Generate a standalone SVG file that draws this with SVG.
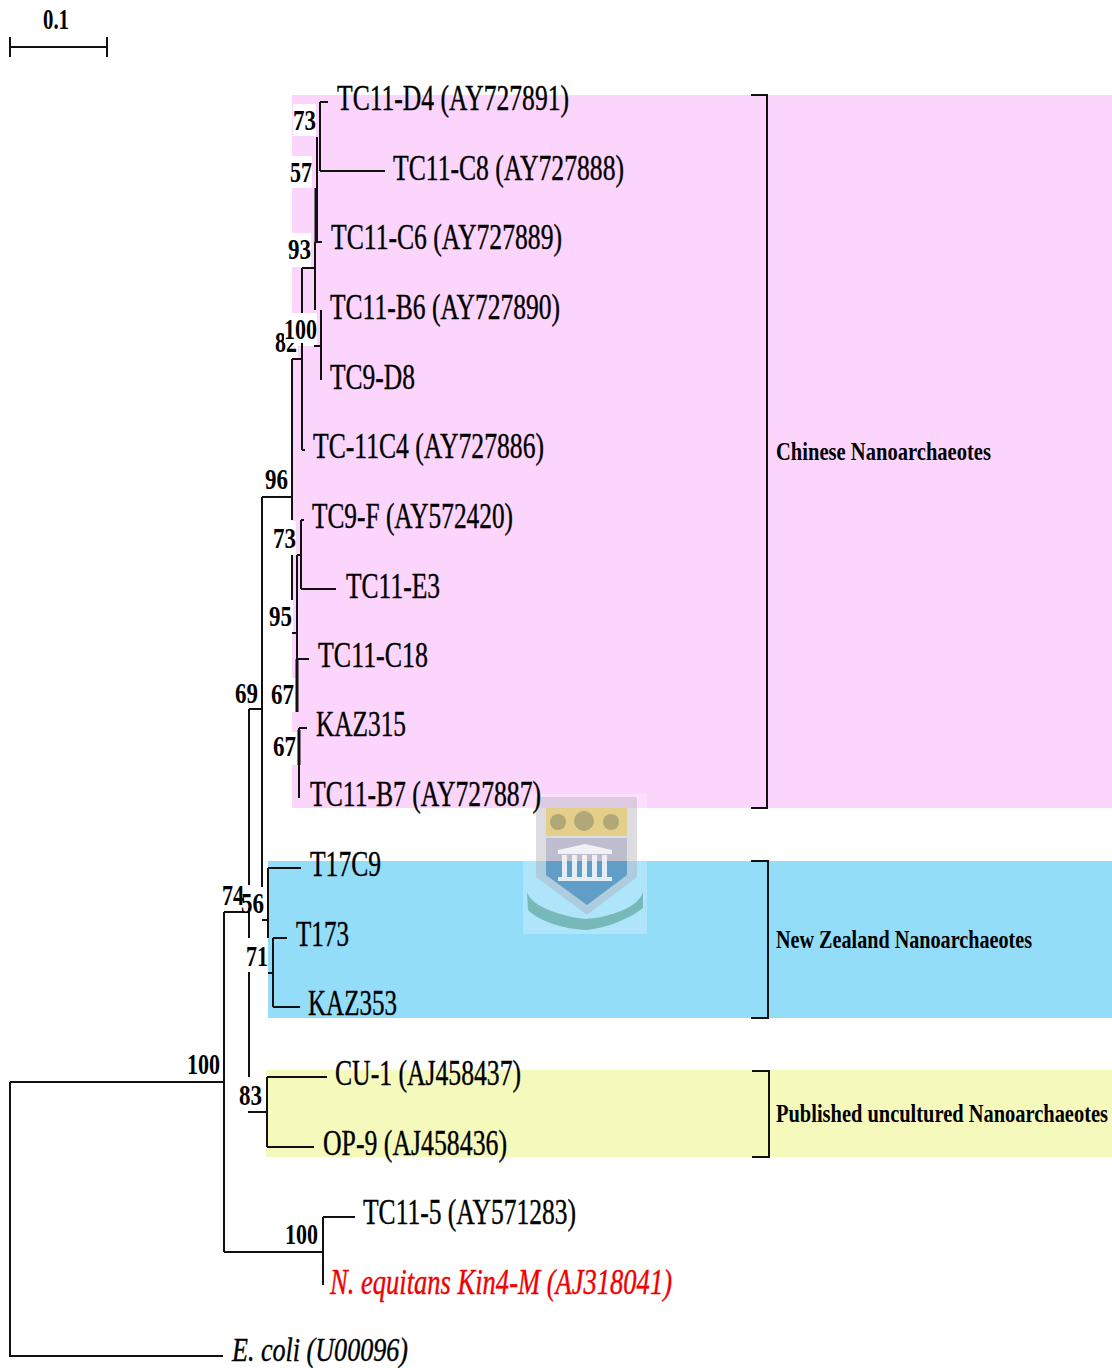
<svg xmlns="http://www.w3.org/2000/svg" width="1112" height="1368" viewBox="0 0 1112 1368">
<style>
text{font-family:"Liberation Serif","Times New Roman",serif;fill:#000}
.t{font-size:35px;stroke:#000;stroke-width:.4px}
.n{font-size:29px;font-weight:bold}
.c{font-size:26px;font-weight:bold}
.i{font-style:italic}
.r{fill:#f00000;stroke:#f00000}
.w{fill:#fff}
#tree path,#brackets path{fill:none;stroke:#111;stroke-width:2px}
</style>
<rect width="1112" height="1368" fill="#fff"/>
<g id="bands">
<rect x="292" y="95" width="820" height="713" fill="#fcd5fd"/>
<rect x="268" y="861" width="844" height="157" fill="#94ddf8"/>
<rect x="266" y="1070" width="846" height="87" fill="#f5fabc"/>
</g>
<g id="watermark">
<rect x="523" y="794" width="124" height="140" fill="#fff" opacity=".25"/>
<path d="M536 797H637V877L587 915L536 877Z" fill="#a9a9b4" opacity=".4"/>
<path d="M546 808H627V836H546Z" fill="#e8c75a" opacity=".65"/>
<path d="M546 838H627V861H546Z" fill="#8f8fb0" opacity=".4"/>
<path d="M546 861H627V875L587 905L546 875Z" fill="#3f89bd" opacity=".7"/>
<path d="M558 850L585 844L612 850V854H558ZM562 855H567V877H562ZM572 855H577V877H572ZM582 855H587V877H582ZM592 855H597V877H592ZM602 855H607V877H602ZM558 877H612V881H558Z" fill="#f4f6fa" opacity=".9"/>
<circle cx="558" cy="822" r="8" fill="#8f8d70" opacity=".6"/><circle cx="584" cy="821" r="10" fill="#8f8d70" opacity=".6"/><circle cx="611" cy="822" r="8" fill="#8f8d70" opacity=".6"/>
<path d="M527 892C532 908 565 917 586 919C610 917 638 908 643 892V908C625 922 600 929 586 930C565 929 540 922 528 910Z" fill="#5fa59c" opacity=".7"/>
</g>
<g id="labels-bg">
<rect class="w" x="293" y="104" width="23" height="32"/>
<rect class="w" x="290" y="156" width="22" height="32"/>
<rect class="w" x="288" y="233" width="23" height="34"/>
<rect class="w" x="272" y="325" width="26" height="34"/>
<rect class="w" x="284" y="313" width="33" height="33"/>
<rect class="w" x="271" y="521" width="25" height="34"/>
<rect class="w" x="268" y="600" width="25" height="32"/>
<rect class="w" x="270" y="678" width="26" height="34"/>
<rect class="w" x="272" y="732" width="25" height="33"/>
</g>
<g id="tree">
<path d="M10 47H107M10 37V57M107 37V57"/>
<path d="M10 1082H224M10 1082V1356H223M224 912V1252M224 912H245M224 1252H323M323 1217V1285M323 1217H355"/>
<path d="M249 709V885M249 908V938M249 972V1077M249 709H262M248 1112H267M267 1077V1147M267 1077H327M267 1147H314"/>
<path d="M262 497V887M262 920H268M268 868V938M268 868H301M268 973H273M273 938V1007M273 938H287M273 1007H300"/>
<path d="M262 497H292M292 359V520M292 555V600M292 633H297M297 555V712M297 555H300M301 520V589M301 520H304M301 589H336M297 659H309"/>
<path d="M299 728V798M299 728H307"/>
<path d="M292 359H302M302 268V450M302 450H305M302 268H315M315 242V310M314 346H321M321 310V380"/>
<path d="M317 137V242M316 242H322M320 102V171M320 102H328M320 171H385"/>
<path d="M297 659V712M299 730V765M316 188V242" style="stroke-width:3px"/>
</g>
<g id="brackets">
<path d="M751 95H767V808H751"/>
<path d="M751 861H768V1018H751"/>
<path d="M752 1071H769V1157H752"/>
</g>
<g id="numbers">
<text class="n" x="43" y="29" textLength="26" lengthAdjust="spacingAndGlyphs">0.1</text>
<text class="n" x="293" y="130" textLength="23" lengthAdjust="spacingAndGlyphs">73</text>
<text class="n" x="290" y="182" textLength="22" lengthAdjust="spacingAndGlyphs">57</text>
<text class="n" x="288" y="259" textLength="23" lengthAdjust="spacingAndGlyphs">93</text>
<text class="n" x="275" y="352" textLength="22" lengthAdjust="spacingAndGlyphs">82</text>
<rect class="w" x="284" y="313" width="33" height="30"/>
<text class="n" x="284" y="339" textLength="33" lengthAdjust="spacingAndGlyphs">100</text>
<text class="n" x="265" y="489" textLength="23" lengthAdjust="spacingAndGlyphs">96</text>
<text class="n" x="273" y="548" textLength="23" lengthAdjust="spacingAndGlyphs">73</text>
<text class="n" x="269" y="626" textLength="23" lengthAdjust="spacingAndGlyphs">95</text>
<text class="n" x="271" y="704" textLength="23" lengthAdjust="spacingAndGlyphs">67</text>
<text class="n" x="273" y="756" textLength="23" lengthAdjust="spacingAndGlyphs">67</text>
<text class="n" x="235" y="703" textLength="23" lengthAdjust="spacingAndGlyphs">69</text>
<text class="n" x="222" y="905" textLength="22" lengthAdjust="spacingAndGlyphs">74</text>
<text class="n" x="241" y="913" textLength="23" lengthAdjust="spacingAndGlyphs">56</text>
<text class="n" x="246" y="966" textLength="22" lengthAdjust="spacingAndGlyphs">71</text>
<text class="n" x="239" y="1105" textLength="23" lengthAdjust="spacingAndGlyphs">83</text>
<text class="n" x="187" y="1074" textLength="33" lengthAdjust="spacingAndGlyphs">100</text>
<text class="n" x="285" y="1244" textLength="33" lengthAdjust="spacingAndGlyphs">100</text>
</g>
<g id="tip-tc11-d4"><text class="t" x="337" y="110" textLength="232" lengthAdjust="spacingAndGlyphs">TC11-D4 (AY727891)</text></g>
<g id="tip-tc11-c8"><text class="t" x="393" y="180" textLength="231" lengthAdjust="spacingAndGlyphs">TC11-C8 (AY727888)</text></g>
<g id="tip-tc11-c6"><text class="t" x="331" y="249" textLength="231" lengthAdjust="spacingAndGlyphs">TC11-C6 (AY727889)</text></g>
<g id="tip-tc11-b6"><text class="t" x="330" y="319" textLength="230" lengthAdjust="spacingAndGlyphs">TC11-B6 (AY727890)</text></g>
<g id="tip-tc9-d8"><text class="t" x="330" y="389" textLength="85" lengthAdjust="spacingAndGlyphs">TC9-D8</text></g>
<g id="tip-tc-11c4"><text class="t" x="313" y="458" textLength="231" lengthAdjust="spacingAndGlyphs">TC-11C4 (AY727886)</text></g>
<g id="tip-tc9-f"><text class="t" x="312" y="528" textLength="201" lengthAdjust="spacingAndGlyphs">TC9-F (AY572420)</text></g>
<g id="tip-tc11-e3"><text class="t" x="346" y="598" textLength="94" lengthAdjust="spacingAndGlyphs">TC11-E3</text></g>
<g id="tip-tc11-c18"><text class="t" x="318" y="667" textLength="110" lengthAdjust="spacingAndGlyphs">TC11-C18</text></g>
<g id="tip-kaz315"><text class="t" x="316" y="736" textLength="90" lengthAdjust="spacingAndGlyphs">KAZ315</text></g>
<g id="tip-tc11-b7"><text class="t" x="310" y="806" textLength="231" lengthAdjust="spacingAndGlyphs">TC11-B7 (AY727887)</text></g>
<g id="tip-t17c9"><text class="t" x="310" y="876" textLength="71" lengthAdjust="spacingAndGlyphs">T17C9</text></g>
<g id="tip-t173"><text class="t" x="296" y="946" textLength="53" lengthAdjust="spacingAndGlyphs">T173</text></g>
<g id="tip-kaz353"><text class="t" x="308" y="1015" textLength="89" lengthAdjust="spacingAndGlyphs">KAZ353</text></g>
<g id="tip-cu-1"><text class="t" x="335" y="1085" textLength="186" lengthAdjust="spacingAndGlyphs">CU-1 (AJ458437)</text></g>
<g id="tip-op-9"><text class="t" x="323" y="1155" textLength="184" lengthAdjust="spacingAndGlyphs">OP-9 (AJ458436)</text></g>
<g id="tip-tc11-5"><text class="t" x="363" y="1224" textLength="213" lengthAdjust="spacingAndGlyphs">TC11-5 (AY571283)</text></g>
<g id="tip-n-equitans"><text class="t i r" x="330" y="1294" textLength="342" lengthAdjust="spacingAndGlyphs">N. equitans Kin4-M (AJ318041)</text></g>
<g id="tip-e-coli"><text class="t i" x="232" y="1361" style="font-size:33px" textLength="176" lengthAdjust="spacingAndGlyphs">E. coli (U00096)</text></g>
<g id="clade-chinese"><text class="c" x="776" y="460" textLength="215" lengthAdjust="spacingAndGlyphs">Chinese Nanoarchaeotes</text></g>
<g id="clade-new-zealand"><text class="c" x="776" y="948" textLength="256" lengthAdjust="spacingAndGlyphs">New Zealand Nanoarchaeotes</text></g>
<g id="clade-published"><text class="c" x="776" y="1122" textLength="332" lengthAdjust="spacingAndGlyphs">Published uncultured Nanoarchaeotes</text></g>
</svg>
